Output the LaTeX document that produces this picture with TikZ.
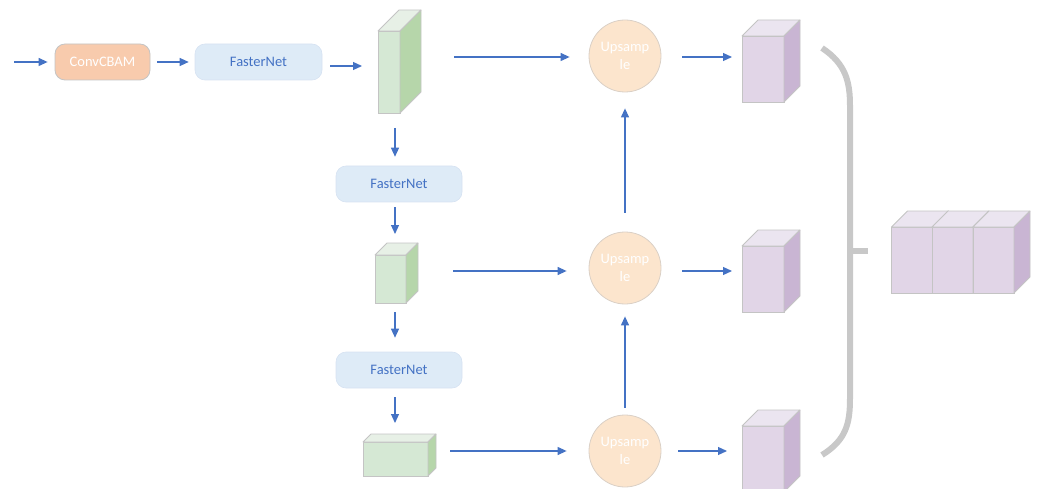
\documentclass[tikz,border=0pt]{standalone}
\usepackage{fontspec}
\setmainfont{Carlito}
\usepackage{tikz}
\usetikzlibrary{arrows.meta,calc}
\definecolor{flecheblue}{RGB}{68,114,196}
\definecolor{cbamorange}{RGB}{248,203,173}
\definecolor{netblue}{RGB}{222,235,247}
\definecolor{netborder}{RGB}{214,226,242}
\definecolor{upfill}{RGB}{252,229,205}
\definecolor{upborder}{RGB}{218,208,198}
\definecolor{edgegray}{RGB}{196,196,196}
\definecolor{greenfront}{RGB}{213,232,212}
\definecolor{greenside}{RGB}{182,214,170}
\definecolor{greentop}{RGB}{231,240,230}
\definecolor{purplefront}{RGB}{225,213,231}
\definecolor{purpleside}{RGB}{201,181,211}
\definecolor{purpletop}{RGB}{235,229,240}
\definecolor{bracegray}{RGB}{200,200,200}
\tikzset{
  fleche/.style={flecheblue, line width=1.2pt, -{Stealth[length=9pt,width=8pt,inset=0pt]}},
  face/.style={draw=edgegray, line width=0.8pt},
  bloc/.style={rounded corners=10pt, minimum width=95pt, minimum height=36pt, font=\fontsize{14.5}{16}\selectfont},
  upsample/.style={circle, fill=upfill, draw=upborder, line width=0.8pt, minimum size=72pt, inner sep=0pt,
    text=white, align=center, font=\fontsize{14.5}{18}\selectfont}
}
% cuboide : nom, centre, largeur, hauteur, profondeur, face, cote, dessus
\newcommand{\cuboide}[8]{%
  \node[face, fill=#6, minimum width=#3pt, minimum height=#4pt, inner sep=0pt, outer sep=0pt] (#1) at (#2) {};
  \filldraw[face, fill=#8, line join=round] (#1.north west) -- ++(#5,-#5) -- ($(#1.north east)+(#5,-#5)$) -- (#1.north east) -- cycle;
  \filldraw[face, fill=#7, line join=round] (#1.north east) -- ++(#5,-#5) -- ($(#1.south east)+(#5,-#5)$) -- (#1.south east) -- cycle;
}

\begin{document}
\begin{tikzpicture}[x=1pt,y=-1pt]
  \useasboundingbox (0,0) rectangle (1038,489);

  % blocs d'entree
  \coordinate (entree) at (14,62);
  \node[bloc, face, fill=cbamorange, text=white] (cbam) at (102.5,62) {ConvCBAM};
  \node[bloc, draw=netborder, line width=0.6pt, fill=netblue, text=flecheblue, minimum width=127pt] (f1) at (258.5,62) {FasterNet};
  \node[bloc, draw=netborder, line width=0.6pt, fill=netblue, text=flecheblue, minimum width=126pt] (f2) at (399,184) {FasterNet};
  \node[bloc, draw=netborder, line width=0.6pt, fill=netblue, text=flecheblue, minimum width=126pt] (f3) at (399,370) {FasterNet};

  % cartes vertes
  \cuboide{g1}{389,72}{22}{82}{21}{greenfront}{greenside}{greentop}
  \cuboide{g2}{390.5,279}{31}{48}{12}{greenfront}{greenside}{greentop}
  \cuboide{g3}{395.5,459}{65}{34}{8}{greenfront}{greenside}{greentop}

  % upsample
  \node[upsample] (u1) at (625,56) {Upsamp\\le};
  \node[upsample] (u2) at (625,268) {Upsamp\\le};
  \node[upsample] (u3) at (625,451) {Upsamp\\le};

  % cartes violettes
  \foreach \n/\y in {p1/69,p2/279,p3/459}{
    \cuboide{\n}{763,\y}{42}{66}{16}{purplefront}{purpleside}{purpletop}
  }
  \foreach \n/\x in {c1/912,c2/952.5,c3/993.5}{
    \cuboide{\n}{\x,260}{41}{66}{16}{purplefront}{purpleside}{purpletop}
  }

  % accolade
  \draw[bracegray, line width=6pt] (822,48) .. controls (846,64) and (850,82) .. (850,106) -- (850,398)
    .. controls (850,424) and (846,440) .. (822,455);
  \draw[bracegray, line width=6pt] (850,251) -- (868,251);

  % fleches
  \draw[fleche, shorten >=7pt] (entree) -- (cbam);
  \draw[fleche, shorten <=7pt, shorten >=6pt] (cbam) -- (f1);
  \draw[fleche, shorten <=8pt, shorten >=16pt] ([yshift=-4pt]f1.east) -- ([yshift=6pt]g1.west);
  \draw[fleche, shorten <=54pt, shorten >=19pt] ([yshift=15pt]g1.east) -- ([yshift=-1pt]u1.west);
  \draw[fleche, shorten <=21pt, shorten >=10pt] ([yshift=-1pt]u1.east) -- ([yshift=12pt]p1.west);
  \draw[fleche, shorten <=15pt, shorten >=9pt] ([xshift=6pt]g1.south) -- ([xshift=-4pt]f2.north);
  \draw[fleche, shorten <=5pt, shorten >=21pt] ([xshift=-4pt]f2.south) -- ([xshift=4.5pt]g2.north);
  \draw[fleche, shorten <=9pt, shorten >=14pt] ([xshift=4.5pt]g2.south) -- ([xshift=-4pt]f3.north);
  \draw[fleche, shorten <=9pt, shorten >=19pt] ([xshift=-4pt]f3.south) -- ([xshift=-0.5pt]g3.north);
  \draw[fleche, shorten <=47pt, shorten >=22pt] ([yshift=8pt]g2.east) -- ([yshift=-3pt]u2.west);
  \draw[fleche, shorten <=22pt, shorten >=22pt] ([yshift=8pt]g3.east) -- (u3.west);
  \draw[fleche, shorten <=21pt, shorten >=10pt] ([yshift=-3pt]u2.east) -- ([yshift=8pt]p2.west);
  \draw[fleche, shorten <=17pt, shorten >=15pt] (u3.east) -- ([yshift=8pt]p3.west);
  \draw[fleche, shorten <=19pt, shorten >=16pt] (u2) -- (u1);
  \draw[fleche, shorten <=7pt, shorten >=12pt] (u3) -- (u2);
\end{tikzpicture}
\end{document}
